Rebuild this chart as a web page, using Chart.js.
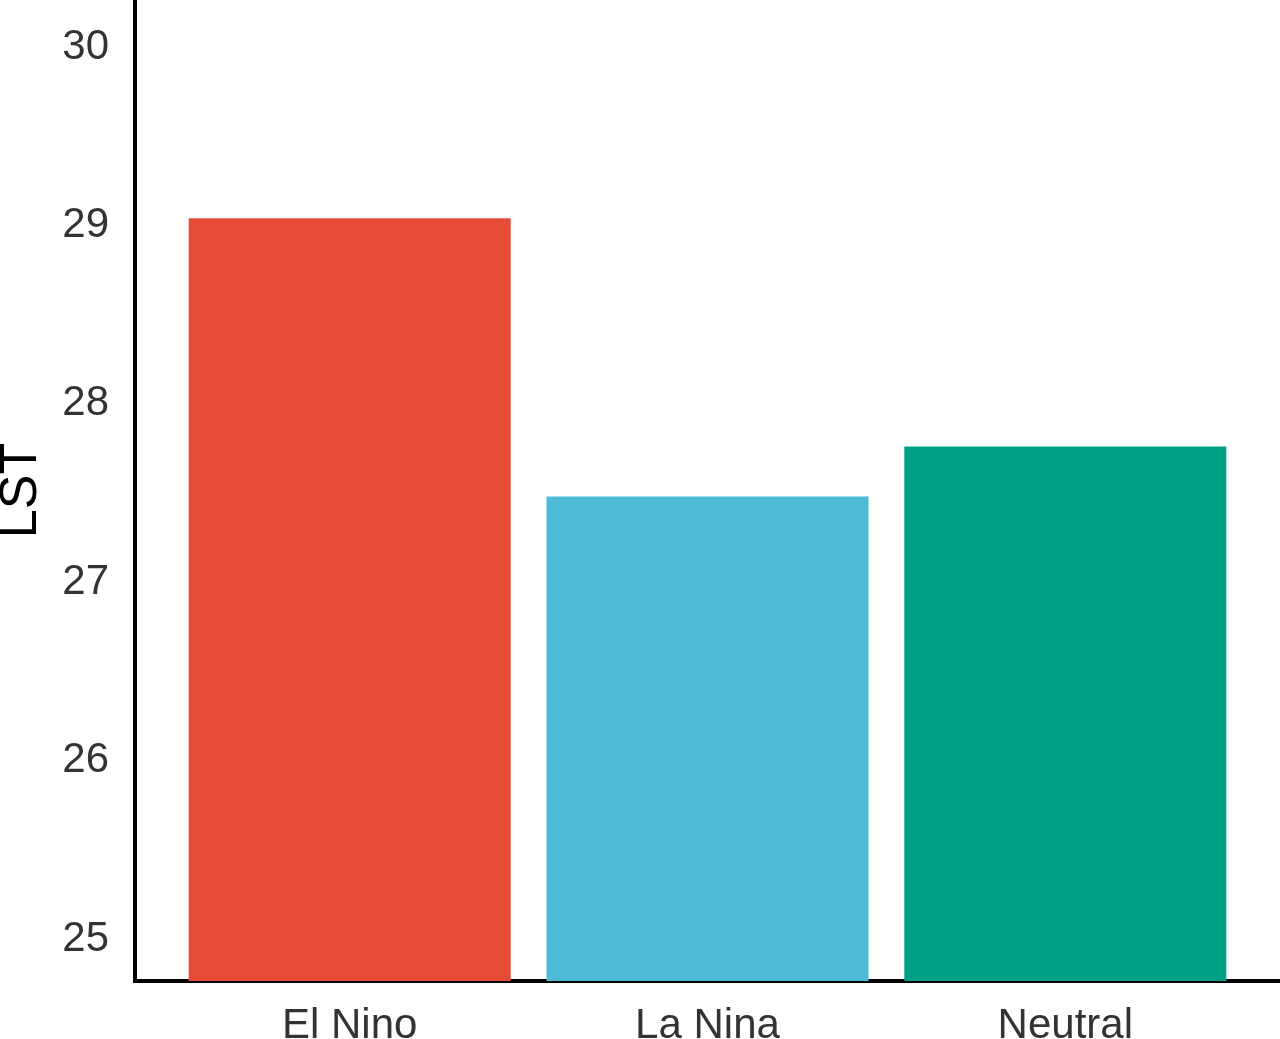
<!DOCTYPE html>
<html>
<head>
<meta charset="utf-8">
<script src="https://cdn.jsdelivr.net/npm/chart.js@4/dist/chart.umd.min.js"></script>
<style>
  html, body { margin: 0; padding: 0; background: #fff; }
  #chart { display: block; }
</style>
</head>
<body>
<canvas id="chart" width="1280" height="1039"></canvas>
<script>
  // Datos
  const categories = ['El Nino', 'La Nina', 'Neutral'];
  const lstValues = [29.04, 27.48, 27.76];
  const barColors = ['#E64B35', '#4DBBD5', '#00A087'];
  const yTicks = [25, 26, 27, 28, 29, 30];

  const ctx = document.getElementById('chart').getContext('2d');
  new Chart(ctx, {
    type: 'bar',
    data: {
      datasets: [{
        data: categories.map((c, i) => ({ x: i + 1, y: lstValues[i] })),
        backgroundColor: barColors,
        borderWidth: 0,
        categoryPercentage: 1,
        barPercentage: 0.9
      }]
    },
    options: {
      responsive: false,
      animation: false,
      layout: { padding: 0 },
      plugins: { legend: { display: false }, tooltip: { enabled: false } },
      scales: {
        x: {
          type: 'linear',
          min: 0.4,
          max: 3.6,
          offset: false,
          grid: { display: false, drawTicks: false },
          border: { color: '#000', width: 4 },
          afterBuildTicks: s => { s.ticks = categories.map((c, i) => ({ value: i + 1 })); },
          ticks: {
            padding: 20,
            color: '#333',
            font: { family: 'Liberation Sans, Arial, sans-serif', size: 42 },
            callback: v => categories[v - 1]
          },
          afterFit: s => { s.height = 58; s.paddingLeft = 0; s.paddingRight = 0; }
        },
        y: {
          min: 24.765,
          max: 30.263,
          grid: { display: false, drawTicks: false },
          border: { color: '#000', width: 4 },
          afterBuildTicks: s => { s.ticks = yTicks.map(v => ({ value: v })); },
          ticks: {
            padding: 26,
            color: '#333',
            font: { family: 'Liberation Sans, Arial, sans-serif', size: 42 }
          },
          title: {
            display: true,
            text: 'LST',
            color: '#000',
            padding: 0,
            font: { family: 'Liberation Sans, Arial, sans-serif', size: 52, lineHeight: 0.85 }
          },
          afterFit: s => { s.width = 135; s.paddingTop = 0; s.paddingBottom = 0; }
        }
      }
    }
  });
</script>
</body>
</html>
